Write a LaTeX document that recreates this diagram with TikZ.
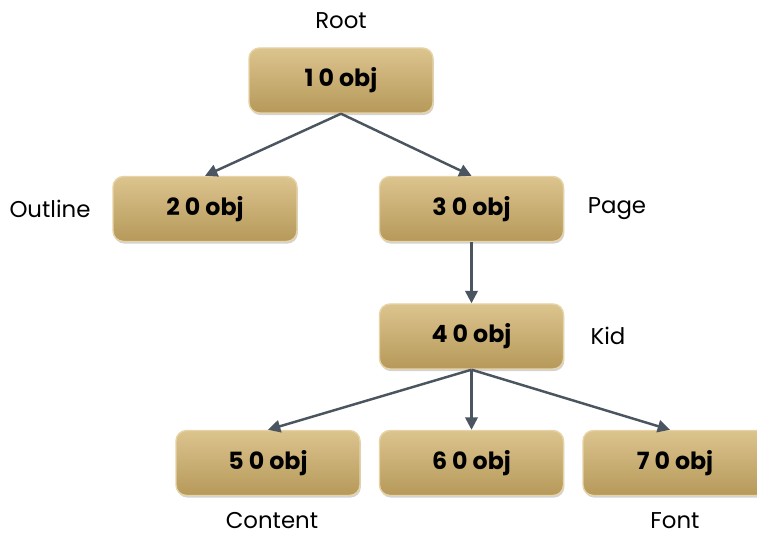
\documentclass[tikz,border=0pt]{standalone}
\usepackage{fontspec}
\setmainfont{Poppins}
\usetikzlibrary{arrows.meta,shadows}

\definecolor{objtop}{HTML}{DCC48E}
\definecolor{objbot}{HTML}{B6995A}
\definecolor{objline}{HTML}{E6D3A6}
\definecolor{linkgray}{HTML}{4B5560}

\tikzset{
  objbox/.style={rounded corners=6pt, draw=objline, line width=0.8pt,
    top color=objtop, bottom color=objbot,
    drop shadow={shadow xshift=0.5pt, shadow yshift=-1.2pt, opacity=0.35},
    minimum width=3.68cm, minimum height=1.3cm, font=\fontsize{13.5}{16}\selectfont\bfseries},
  objlabel/.style={font=\fontsize{13}{16}\selectfont},
  link/.style={draw=linkgray, line width=1.4pt, -{Triangle[length=7pt,width=7pt]}}
}

\begin{document}
\begin{tikzpicture}
  \useasboundingbox (0,0) rectangle (15.14,-10.74);
  \clip (0,0) rectangle (15.14,-10.74);
  % objects
  \node[objbox] (o1) at (6.82,-1.61) {1 0 obj};
  \node[objbox] (o2) at (4.10,-4.18) {2 0 obj};
  \node[objbox] (o3) at (9.43,-4.18) {3 0 obj};
  \node[objbox] (o4) at (9.43,-6.73) {4 0 obj};
  \node[objbox] (o5) at (5.36,-9.26) {5 0 obj};
  \node[objbox] (o6) at (9.43,-9.26) {6 0 obj};
  \node[objbox] (o7) at (13.50,-9.26) {7 0 obj};
  % labels
  \node[objlabel] (lroot) at (6.82,-0.42) {Root};
  \node[objlabel] (lout) at (1.00,-4.17) {Outline};
  \node[objlabel] (lpage) at (12.34,-4.17) {Page};
  \node[objlabel] (lkid) at (12.16,-6.72) {Kid};
  \node[objlabel] (lcont) at (5.44,-10.42) {Content};
  \node[objlabel] (lfont) at (13.50,-10.42) {Font};
  % links
  \draw[link] (o1.south) -- (o2.north);
  \draw[link] (o1.south) -- (o3.north);
  \draw[link] (o3.south) -- (o4.north);
  \draw[link] (o4.south) -- (o5.north);
  \draw[link] (o4.south) -- (o6.north);
  \draw[link] (o4.south) -- ([xshift=-0.1cm]o7.north);
\end{tikzpicture}
\end{document}
